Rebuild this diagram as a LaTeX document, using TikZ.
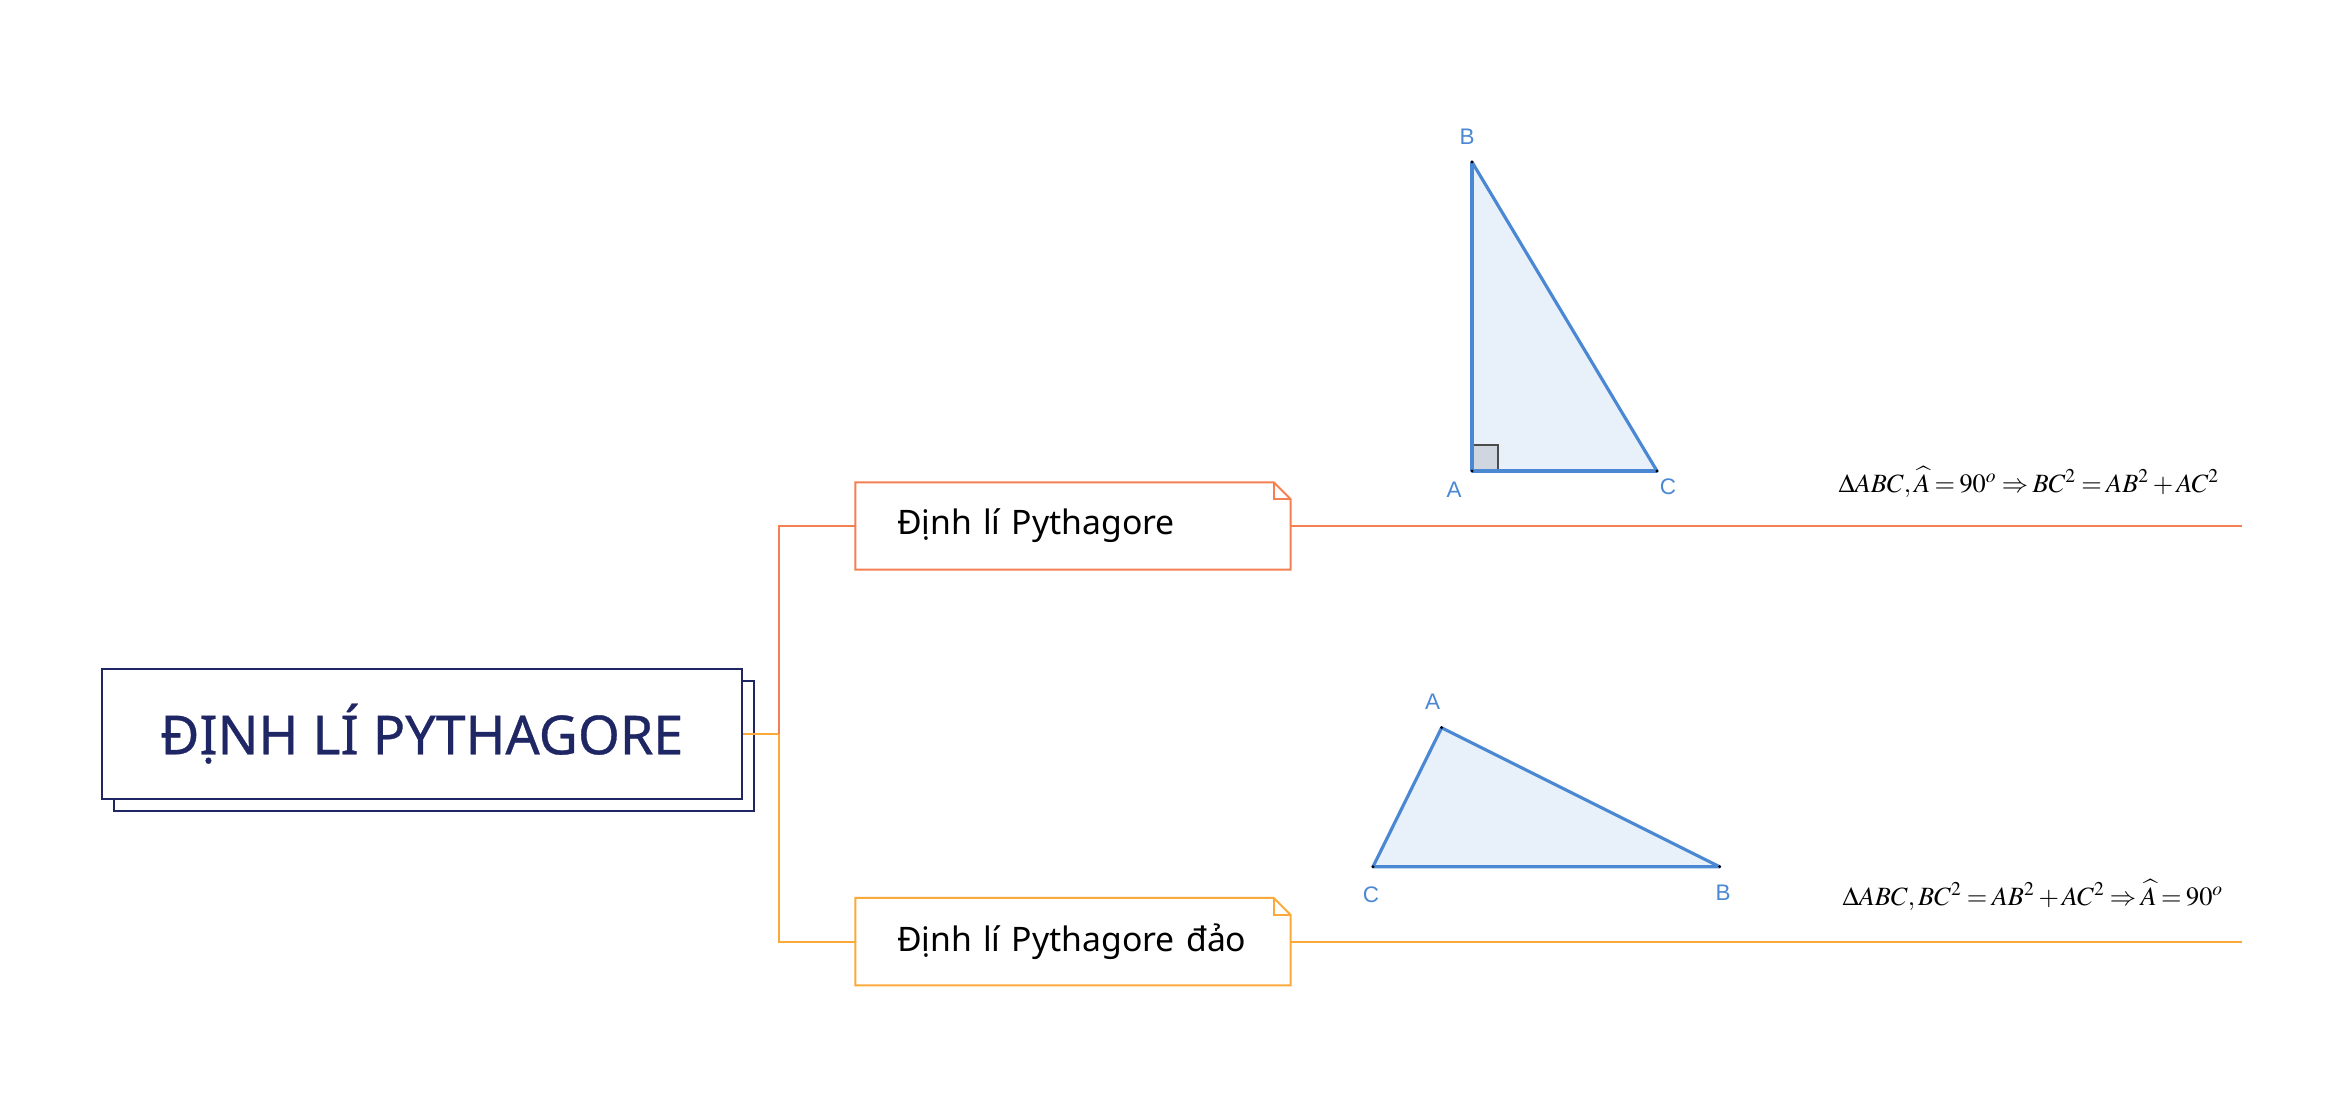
\documentclass[tikz,border=0pt]{standalone}
\usepackage{mathptmx}
\usepackage[no-math]{fontspec}
\setmainfont{Noto Sans}
\newfontfamily\titlefont[FakeBold=0.6]{Noto Sans}
\newfontfamily\geofont{Liberation Sans}

\definecolor{navy}{RGB}{31,38,100}
\definecolor{branchred}{RGB}{244,128,82}
\definecolor{branchorange}{RGB}{251,170,58}
\definecolor{geoblue}{RGB}{74,136,212}
\definecolor{geofill}{RGB}{232,240,250}
\definecolor{anglefill}{RGB}{208,214,224}

\tikzset{
	titlebox/.style={draw=navy, line width=0.6pt, fill=white, minimum width=64mm, minimum height=13mm, text=navy, font=\titlefont\fontsize{15.3}{18}\selectfont},
	branchbox/.style={text width=35.2mm, inner xsep=4.1mm, minimum height=8.6mm, align=left, font=\fontsize{9.6}{11}\selectfont},
	redline/.style={draw=branchred, line width=0.55pt},
	orangeline/.style={draw=branchorange, line width=0.55pt},
	tri/.style={draw=geoblue, fill=geofill, line width=0.9pt, line join=round},
	vertex/.style={text=geoblue, font=\geofont\fontsize{6.4}{7}\selectfont, inner sep=0pt},
	formula/.style={anchor=west, inner sep=0pt, font=\fontsize{7.5}{9}\selectfont}
}

% box with a folded corner, drawn round a node
\newcommand{\notebox}[2]{%
	\draw[#2] (#1.north west) -- ([xshift=-1.7mm]#1.north east) -- ([yshift=-1.7mm]#1.north east) -- (#1.south east) -- (#1.south west) -- cycle;
	\draw[#2] ([xshift=-1.7mm]#1.north east) |- ([yshift=-1.7mm]#1.north east);
}

\begin{document}
\begin{tikzpicture}[x=0.1mm, y=-0.1mm]

	\useasboundingbox (0,0) rectangle (2344,1113);

	% main topic
	\draw[navy, line width=0.6pt, fill=white] (114,681) rectangle (754,811);
	\node[titlebox] (title) at (421.7,733.6) {ĐỊNH LÍ PYTHAGORE};

	% branches
	\node[branchbox] (pyth) at (1073,526) {Định lí Pythagore};
	\notebox{pyth}{redline}
	\node[branchbox] (converse) at (1073,941.6) {Định lí Pythagore đảo};
	\notebox{converse}{orangeline}

	\coordinate (jn) at (779,733.6);
	\coordinate (end1) at (2242,526);
	\coordinate (end2) at (2242,941.6);
	\draw[orangeline] (title.east) -- (jn) |- (converse.west);
	\draw[redline] (jn) |- (pyth.west);
	\draw[redline] (pyth.east) -- (end1);
	\draw[orangeline] (converse.east) -- (end2);

	% right triangle
	\coordinate (A1) at (1472,471);
	\coordinate (B1) at (1472,162);
	\coordinate (C1) at (1657,471);
	\draw[tri] (A1) -- (B1) -- (C1) -- cycle;
	\filldraw[fill=anglefill, draw=black!70, line width=0.6pt] (A1) rectangle ++(26,-26);
	\draw[geoblue, line width=0.9pt] (A1) -- (B1) (A1) -- (C1);
	\foreach \p in {A1,B1,C1} \fill (\p) circle (1.6);
	\node[vertex] (lblB1) at (1467,137) {B};
	\node[vertex] (lblA1) at (1454,490) {A};
	\node[vertex] (lblC1) at (1668,487) {C};
	\node[formula] (law) at (1838,482) {$\thickmuskip=3mu\medmuskip=2mu \Delta ABC,\widehat{A}=90^o\Rightarrow BC^2=AB^2+AC^2$};

	% triangle for the converse
	\coordinate (A2) at (1441.6,727.7);
	\coordinate (B2) at (1719.6,866.7);
	\coordinate (C2) at (1373,866.7);
	\draw[tri] (A2) -- (B2) -- (C2) -- cycle;
	\foreach \p in {A2,B2,C2} \fill (\p) circle (1.6);
	\node[vertex] (lblA2) at (1432.6,701.7) {A};
	\node[vertex] (lblC2) at (1371,895) {C};
	\node[vertex] (lblB2) at (1723,893) {B};
	\node[formula] (conv) at (1842,895) {$\thickmuskip=3mu\medmuskip=2mu \Delta ABC,BC^2=AB^2+AC^2\Rightarrow\widehat{A}=90^o$};

\end{tikzpicture}
\end{document}
